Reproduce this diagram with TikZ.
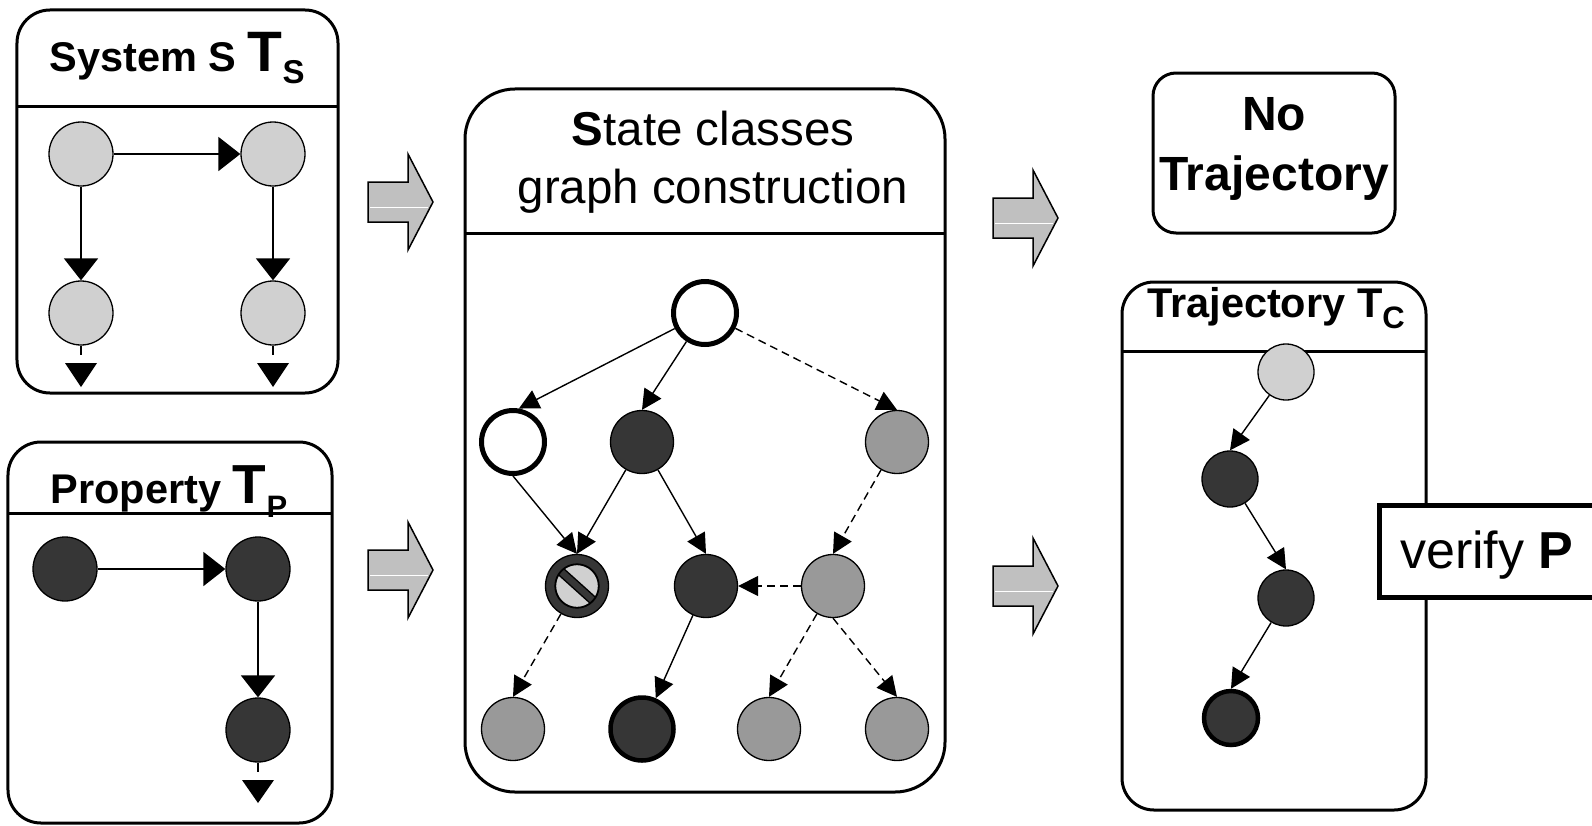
\documentclass[tikz,border=0pt]{standalone}
\usepackage{fontspec}
\setmainfont{Liberation Sans}
\usetikzlibrary{arrows.meta}
\definecolor{cLight}{HTML}{D0D0D0}
\definecolor{cDark}{HTML}{363636}
\definecolor{cMid}{HTML}{999999}
\definecolor{cBlock}{HTML}{C0C0C0}
\begin{document}
\begin{tikzpicture}[x=1bp,y=-1bp,
  panel/.style={draw, line width=3bp, rectangle, inner sep=0pt},
  st/.style={circle, draw, line width=1.3bp, inner sep=0pt, minimum size=63bp},
  lightst/.style={st, fill=cLight},
  darkst/.style={st, fill=cDark},
  midst/.style={st, fill=cMid},
  openst/.style={st, fill=white, line width=5bp},
  finalst/.style={st, fill=cDark, line width=4.5bp},
  tst/.style={st, minimum size=56bp},
  bigarr/.style={draw, line width=1.8bp, -{Triangle[length=22bp,width=34bp]}},
  smallarr/.style={draw, line width=1.4bp, -{Triangle[length=20bp,width=20bp]}},
  dsh/.style={dash pattern=on 8bp off 5bp},
  stub/.style={fill=black},
  fatarrow/.pic={
    \draw[fill=cBlock, line width=1.5bp] (0,-20) -- (40,-20) -- (40,-48) -- (65,0) -- (40,48) -- (40,20) -- (0,20) -- cycle;
    \draw[white, line width=0.8bp] (2,5) -- (60,5);
  }
]
\useasboundingbox (0,0) rectangle (1592,825);

% ---------- System box ----------
\node[panel, rounded corners=33bp, minimum width=321bp, minimum height=383bp] (sysbox) at (177.5,201.5) {};
\draw[line width=3bp] (17,106) -- (338,106);
\node[anchor=base, inner sep=0pt] (systitle) at (177,71)
  {\fontsize{41.5bp}{48bp}\selectfont\bfseries System S \fontsize{57bp}{60bp}\selectfont T\raisebox{-12bp}{\fontsize{33bp}{36bp}\selectfont S}};
\node[lightst, minimum size=64bp] (s1) at (81,154) {};
\node[lightst, minimum size=64bp] (s2) at (273,154) {};
\node[lightst, minimum size=64bp] (s3) at (81,313) {};
\node[lightst, minimum size=64bp] (s4) at (273,313) {};
\draw[bigarr] (s1) -- (s2);
\draw[bigarr] (s1) -- (s3);
\draw[bigarr] (s2) -- (s4);
\coordinate (s3e) at (81,355);
\coordinate (s4e) at (273,355);
\draw[line width=1.8bp] (s3) -- (s3e);
\draw[line width=1.8bp] (s4) -- (s4e);
\fill[stub] (65,363) -- (97,363) -- (81,387) -- cycle;
\fill[stub] (257,363) -- (289,363) -- (273,387) -- cycle;

% ---------- Property box ----------
\node[panel, rounded corners=33bp, minimum width=324bp, minimum height=381bp] (propbox) at (170,632.5) {};
\draw[line width=3bp] (8,513) -- (332,513);
\node[anchor=base, inner sep=0pt] (proptitle) at (169,503)
  {\fontsize{41.5bp}{48bp}\selectfont\bfseries Property \fontsize{55bp}{60bp}\selectfont T\raisebox{-14bp}{\fontsize{31bp}{36bp}\selectfont P}};
\node[darkst, minimum size=64bp] (p1) at (65,569) {};
\node[darkst, minimum size=64bp] (p2) at (258,569) {};
\node[darkst, minimum size=64bp] (p3) at (258,730) {};
\draw[bigarr] (p1) -- (p2);
\draw[bigarr] (p2) -- (p3);
\coordinate (p3e) at (258,772);
\draw[line width=1.8bp] (p3) -- (p3e);
\fill[stub] (242,780) -- (274,780) -- (258,803) -- cycle;

% ---------- block arrows ----------
\pic at (368,202) {fatarrow};
\pic at (368,570) {fatarrow};
\pic at (993,218) {fatarrow};
\pic at (993,586) {fatarrow};

% ---------- State classes graph box ----------
\node[panel, rounded corners=50bp, minimum width=480bp, minimum height=703bp] (midbox) at (705,440.5) {};
\draw[line width=3bp] (465,233) -- (945,233);
\node[anchor=base, inner sep=0pt] (midtitleA) at (713,145)
  {\fontsize{47.5bp}{56bp}\selectfont\textbf{S}tate classes};
\node[anchor=base, inner sep=0pt] (midtitleB) at (713,203)
  {\fontsize{47.5bp}{56bp}\selectfont graph construction};

\node[openst] (root) at (705,313) {};
\node[openst] (w1) at (513,442) {};
\node[darkst] (d1) at (642,442) {};
\node[midst] (g1) at (897,442) {};
\node[darkst] (f) at (577,586) {};
\node[darkst] (dm) at (706,586) {};
\node[midst] (gm) at (833,586) {};
\node[midst] (b1) at (513,729) {};
\node[finalst] (b2) at (642,729) {};
\node[midst] (b3) at (769,729) {};
\node[midst] (b4) at (897,729) {};

% forbidden symbol
\node[circle, draw, line width=1.3bp, fill=cLight, minimum size=44bp, inner sep=0pt] (fin) at (f.center) {};
\begin{scope}
  \clip (f.center) circle (21.5bp);
  \begin{scope}[shift={(f.center)}, rotate=-42]
    \draw[fill=cDark, line width=1.3bp] (-30,-4) rectangle (30,4);
  \end{scope}
\end{scope}
\draw[line width=1.3bp] (f.center) circle (21.5bp);

\draw[smallarr] (root) -- (w1.80);
\draw[smallarr] (root) -- (d1.north);
\draw[smallarr, dsh] (root) -- (g1.north);
\draw[smallarr] (w1.south) -- (f.north);
\draw[smallarr] (d1) -- (f.north);
\draw[smallarr] (d1) -- (dm.north);
\draw[smallarr, dsh] (g1) -- (gm.north);
\draw[smallarr, dsh] (gm) -- (dm);
\draw[smallarr, dsh] (f) -- (b1.north);
\draw[smallarr] (dm) -- (b2);
\draw[smallarr, dsh] (gm) -- (b3.north);
\draw[smallarr, dsh] (gm.south) -- (b4.north);

% ---------- No Trajectory ----------
\node[panel, rounded corners=23bp, minimum width=242bp, minimum height=160bp] (notraj) at (1274,153) {};
\node[anchor=base, inner sep=0pt] (notrajA) at (1274,130) {\fontsize{48bp}{56bp}\selectfont\bfseries No};
\node[anchor=base, inner sep=0pt] (notrajB) at (1274,190) {\fontsize{48bp}{56bp}\selectfont\bfseries Trajectory};

% ---------- Trajectory box ----------
\node[panel, rounded corners=32bp, minimum width=304bp, minimum height=528bp] (trajbox) at (1274,546) {};
\draw[line width=3bp] (1122,351) -- (1426,351);
\node[anchor=base, inner sep=0pt] (trajtitle) at (1276,317)
  {\fontsize{41.5bp}{48bp}\selectfont\bfseries Trajectory T\raisebox{-11bp}{\fontsize{31bp}{36bp}\selectfont C}};
\node[tst, fill=cLight] (t1) at (1286,372) {};
\node[tst, fill=cDark] (t2) at (1230,479) {};
\node[tst, fill=cDark] (t3) at (1286,598) {};
\node[tst, fill=cDark, line width=4.5bp, minimum size=54bp] (t4) at (1231,718) {};
\draw[smallarr] (t1) -- (t2.north);
\draw[smallarr] (t2) -- (t3.north);
\draw[smallarr] (t3) -- (t4.north);

% ---------- verify P ----------
\node[draw, line width=5bp, fill=white, rectangle, inner sep=0pt, minimum width=250bp, minimum height=92bp, anchor=north west] (verify) at (1377,503) {};
\node[anchor=base west, inner sep=0pt] (verifytext) at (1400,568)
  {\fontsize{52bp}{60bp}\selectfont verify \textbf{P}};
\end{tikzpicture}
\end{document}
